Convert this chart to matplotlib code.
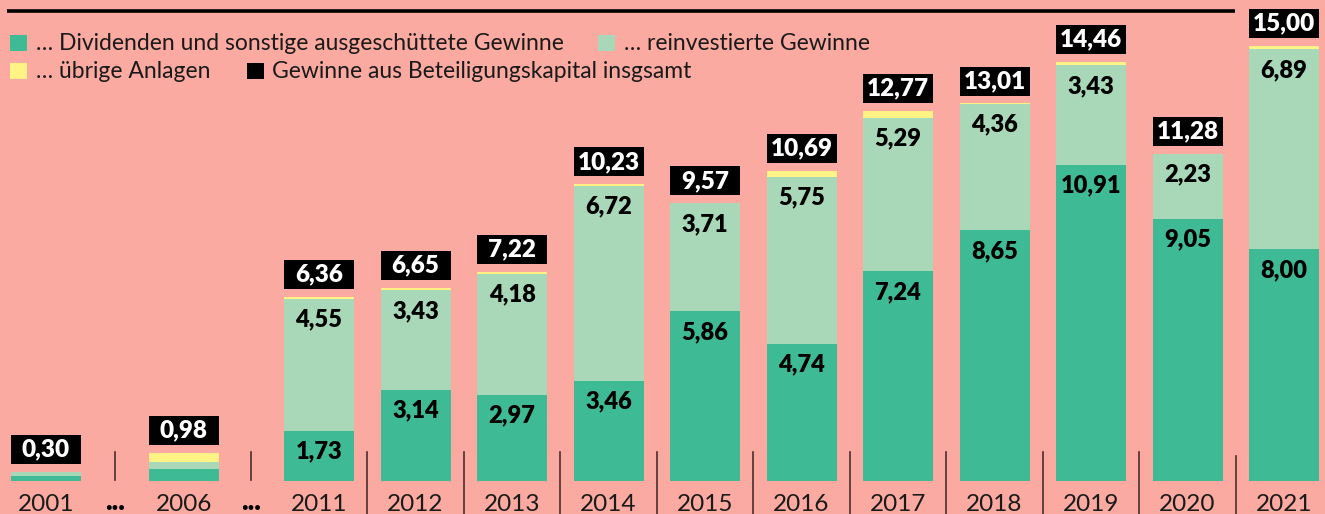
import matplotlib
matplotlib.use("Agg")
import matplotlib.pyplot as plt
from matplotlib.patches import Rectangle

plt.rcParams['font.family'] = ['Lato', 'DejaVu Sans']

years = ["2001", "2006", "2011", "2012", "2013", "2014", "2015", "2016",
         "2017", "2018", "2019", "2020", "2021"]
dividends = [0.16, 0.40, 1.73, 3.14, 2.97, 3.46, 5.86, 4.74, 7.24, 8.65, 10.91, 9.05, 8.00]
reinvested = [0.14, 0.27, 4.55, 3.43, 4.18, 6.72, 3.71, 5.75, 5.29, 4.36, 3.43, 2.23, 6.89]
other = [0.00, 0.31, 0.08, 0.08, 0.07, 0.05, 0.00, 0.20, 0.24, 0.03, 0.12, 0.00, 0.11]
totals = [0.30, 0.98, 6.36, 6.65, 7.22, 10.23, 9.57, 10.69, 12.77, 13.01, 14.46, 11.28, 15.00]
show_segment_labels = [False, False] + [True] * 11

legend_labels = ["… Dividenden und sonstige ausgeschüttete Gewinne",
                 "… reinvestierte Gewinne",
                 "… übrige Anlagen",
                 "Gewinne aus Beteiligungskapital insgsamt"]

BG = "#FAAAA0"
C_DIV = "#3EBB94"
C_REI = "#A8D8B8"
C_OTH = "#FFF385"
C_TOT = "#000000"
TXT = "#1a1a1a"

W, H = 1325, 514
fig = plt.figure(figsize=(W / 100, H / 100), dpi=100, facecolor=BG)
ax = fig.add_axes([0, 0, 1, 1])
ax.set_facecolor(BG)
ax.axis('off')

BASE = 481.0   # pixel row of bar base
SCALE = 29.0   # pixels per unit


def py(p):
    return (BASE - p) / SCALE


ax.set_xlim(0, W)
ax.set_ylim(py(H), py(0))

# bar centres (layout)
xs = [46, 184] + [319 + i * 96.5 for i in range(11)]
bw = 70

bottoms2 = [d + r for d, r in zip(dividends, reinvested)]
ax.bar(xs, dividends, width=bw, color=C_DIV, linewidth=0)
ax.bar(xs, reinvested, bottom=dividends, width=bw, color=C_REI, linewidth=0)
ax.bar(xs, other, bottom=bottoms2, width=bw, color=C_OTH, linewidth=0)

# total boxes
gap = 8 / SCALE
boxh = 29 / SCALE
ax.bar(xs, [boxh] * len(xs), bottom=[t + gap for t in totals], width=bw,
       color=C_TOT, linewidth=0)
for x, t in zip(xs, totals):
    ax.text(x, t + gap + boxh / 2, f"{t:.2f}".replace('.', ','), color='white',
            fontsize=17.5, fontweight='heavy', ha='center', va='center')

# segment labels
for x, d, r, s in zip(xs, dividends, reinvested, show_segment_labels):
    if not s:
        continue
    ax.annotate(f"{d:.2f}".replace('.', ','), (x, d), xytext=(0, -15),
                textcoords='offset points', ha='center', va='center',
                fontsize=17, fontweight='heavy', color='black')
    ax.annotate(f"{r:.2f}".replace('.', ','), (x, d + r), xytext=(0, -15),
                textcoords='offset points', ha='center', va='center',
                fontsize=17, fontweight='heavy', color='black')

# year labels
for x, y in zip(xs, years):
    ax.text(x, py(511), y, ha='center', va='baseline', fontsize=17.5, color=TXT)

# separators
sep_col = "#4a3030"
for sx in [115, 251]:
    ax.plot([sx, sx], [py(452), py(480)], color=sep_col, lw=1.2)
    ax.text(sx, py(509.5), "...", ha='center', va='baseline', fontsize=20,
            fontweight='heavy', color='black')
for i in range(10):
    sx = (xs[2 + i] + xs[3 + i]) / 2
    ytop = 456 if i == 9 else 452
    ax.plot([sx, sx], [py(ytop), py(H)], color=sep_col, lw=1.2)

# top rule
ax.plot([7, 1235], [py(10.8), py(10.8)], color='black', lw=2.6, solid_capstyle='butt')

# legend
leg = [(10, 36, 35, C_DIV, legend_labels[0]),
       (598, 624, 35, C_REI, legend_labels[1]),
       (10, 36, 63, C_OTH, legend_labels[2]),
       (247, 272, 63, C_TOT, legend_labels[3])]
for sqx, tx, top, col, lab in leg:
    ax.add_patch(Rectangle((sqx, py(top + 16)), 17, 16 / SCALE, color=col, lw=0))
    ax.text(tx, py(top + 15.5), lab, ha='left', va='baseline', fontsize=16.5, color=TXT)

fig.savefig("out.png", dpi=100, facecolor=BG)
